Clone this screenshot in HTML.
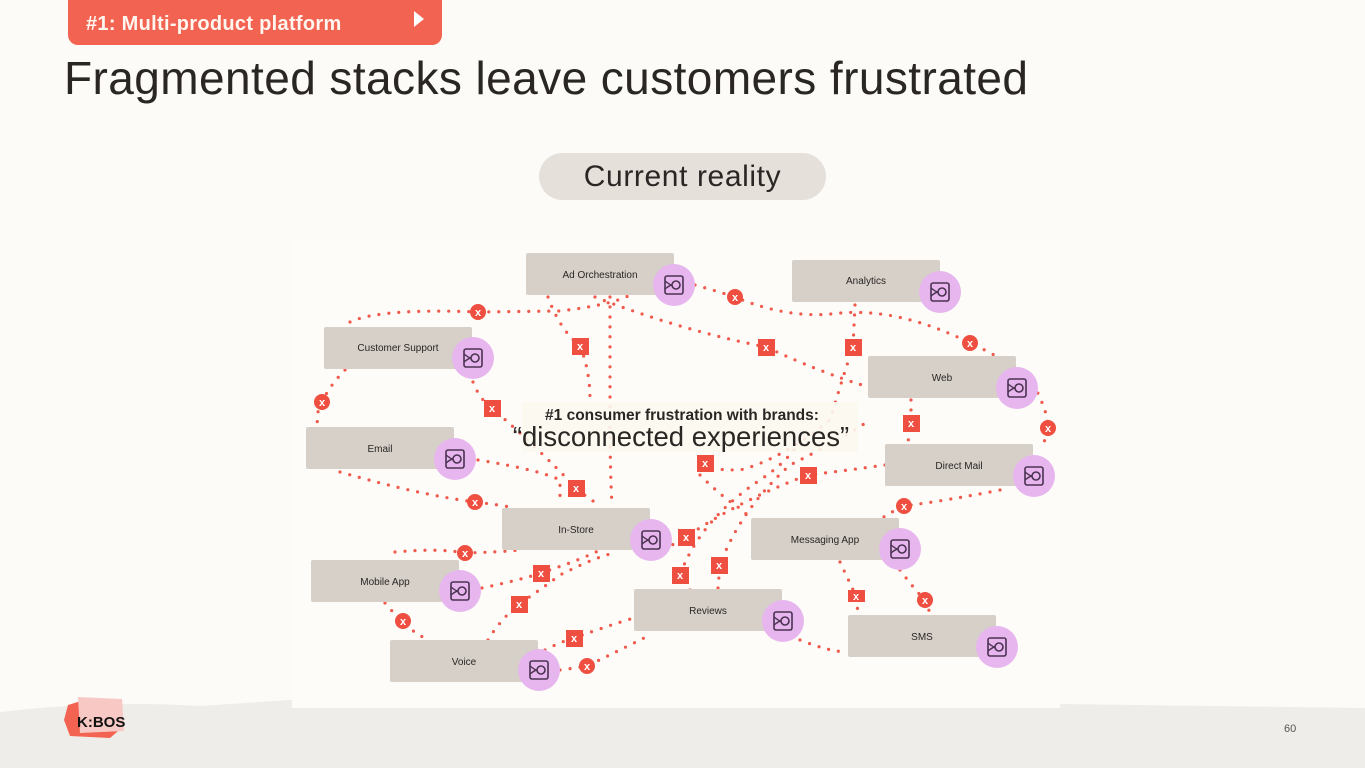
<!DOCTYPE html>
<html><head><meta charset="utf-8"><style>
html,body{margin:0;padding:0;}
body{width:1365px;height:768px;background:#fcfbf8;position:relative;overflow:hidden;font-family:"Liberation Sans",sans-serif;}
.tab{position:absolute;left:68px;top:-10px;width:374px;height:55px;background:#f26352;border-radius:0 0 10px 10px;}
.tab span{position:absolute;left:18px;top:23px;color:#fff6f0;font-size:20px;font-weight:bold;letter-spacing:0.3px;}
.tab i{position:absolute;right:18px;top:21px;width:0;height:0;border-left:10px solid #fff;border-top:8px solid transparent;border-bottom:8px solid transparent;}
h1{position:absolute;left:64px;top:51px;margin:0;font-weight:normal;font-size:46px;color:#2a2624;letter-spacing:0.42px;}
.pill{position:absolute;left:539px;top:153px;width:287px;height:47px;border-radius:24px;background:#e5e0da;text-align:center;line-height:47px;font-size:30px;letter-spacing:0.6px;color:#2a2624;}
.pg{position:absolute;left:1284px;top:723px;font-size:11px;color:#555;}
</style></head><body>
<div class="tab"><span>#1: Multi-product platform</span><i></i></div>
<h1>Fragmented stacks leave customers frustrated</h1>
<div class="pill">Current reality</div>
<svg width="1365" height="768" style="position:absolute;left:0;top:0">
<path d="M0 712 Q100 700 200 706 L 290 700 L 560 708 L 650 702 L 760 700 L 1365 708 L1365 768 L0 768Z" fill="#efede9"/>
<rect x="292" y="240" width="768" height="468" fill="#fdfcf9"/>
<g fill="none" stroke="#ef5a4c" stroke-width="3.2" stroke-linecap="round" stroke-dasharray="0 10">
<path d="M350 322 Q380 308 478 312 L560 311 Q610 305 628 296"/>
<path d="M548 297 Q560 330 580 346 Q590 370 590 400"/>
<path d="M610 297 Q610 330 610 420 Q610 470 612 505"/>
<path d="M595 297 Q680 330 766 347 Q820 372 862 385"/>
<path d="M695 285 Q720 292 735 297 Q790 320 840 313 Q900 308 970 343 Q1030 370 1040 398 Q1048 415 1048 428 Q1048 440 1040 445"/>
<path d="M855 305 L853 347 Q845 370 830 420 Q780 460 740 470 Q700 470 706 463"/>
<path d="M473 382 Q480 400 492 408 Q540 450 576 488 Q590 500 600 505"/>
<path d="M345 370 Q330 385 322 402 Q315 415 318 425"/>
<path d="M340 472 Q420 495 475 502 Q500 505 510 507"/>
<path d="M478 460 Q540 470 560 480 L560 505"/>
<path d="M911 400 L911 423 L908 442"/>
<path d="M1000 490 Q950 500 904 506 Q885 515 880 520"/>
<path d="M885 465 Q850 470 808 475 Q740 500 686 537 Q670 545 660 555"/>
<path d="M395 552 Q440 548 465 553 Q500 552 520 550"/>
<path d="M482 588 Q520 580 541 573 Q580 560 600 550"/>
<path d="M385 603 Q395 615 403 621 Q415 635 430 640"/>
<path d="M488 640 Q500 620 519 604 Q540 590 560 575 Q600 555 615 553"/>
<path d="M545 650 Q560 642 574 638 Q610 625 634 618"/>
<path d="M560 670 Q575 668 587 666 Q620 650 650 635"/>
<path d="M690 590 L680 575 Q700 520 760 480 Q790 460 800 440"/>
<path d="M718 588 L720 565 Q740 510 790 465 Q840 440 870 420"/>
<path d="M840 562 L856 596 L858 613"/>
<path d="M900 570 Q915 590 925 600 L930 613"/>
<path d="M800 640 Q830 652 848 652"/>
<path d="M700 475 Q720 495 735 505 Q745 512 750 518"/>
</g>
<g font-family="Liberation Sans,sans-serif" font-size="11" fill="#fff" text-anchor="middle" font-weight="bold">
<g fill="#ee4f40">
<circle cx="478" cy="312" r="8"/><circle cx="322" cy="402" r="8"/><circle cx="735" cy="297" r="8"/><circle cx="970" cy="343" r="8"/><circle cx="1048" cy="428" r="8"/><circle cx="475" cy="502" r="8"/><circle cx="904" cy="506" r="8"/><circle cx="465" cy="553" r="8"/><circle cx="403" cy="621" r="8"/><circle cx="587" cy="666" r="8"/><circle cx="925" cy="600" r="8"/>
<rect x="572" y="338" width="17" height="17"/><rect x="758" y="339" width="17" height="17"/><rect x="845" y="339" width="17" height="17"/><rect x="484" y="400" width="17" height="17"/><rect x="903" y="415" width="17" height="17"/><rect x="697" y="455" width="17" height="17"/><rect x="800" y="467" width="17" height="17"/><rect x="568" y="480" width="17" height="17"/><rect x="678" y="529" width="17" height="17"/><rect x="533" y="565" width="17" height="17"/><rect x="711" y="557" width="17" height="17"/><rect x="672" y="567" width="17" height="17"/><rect x="511" y="596" width="17" height="17"/><rect x="848" y="590" width="17" height="12"/><rect x="566" y="630" width="17" height="17"/>
</g>
<g>
<text x="478" y="316">x</text><text x="322" y="406">x</text><text x="735" y="301">x</text><text x="970" y="347">x</text><text x="1048" y="432">x</text><text x="475" y="506">x</text><text x="904" y="510">x</text><text x="465" y="557">x</text><text x="403" y="625">x</text><text x="587" y="670">x</text><text x="925" y="604">x</text>
<text x="580" y="350">x</text><text x="766" y="351">x</text><text x="853" y="351">x</text><text x="492" y="412">x</text><text x="911" y="427">x</text><text x="705" y="467">x</text><text x="808" y="479">x</text><text x="576" y="492">x</text><text x="686" y="541">x</text><text x="541" y="577">x</text><text x="719" y="569">x</text><text x="680" y="579">x</text><text x="519" y="608">x</text><text x="856" y="600">x</text><text x="574" y="642">x</text>
</g></g>
<defs><g id="ic"><circle r="21" fill="#e7b6ee"/><rect x="-9" y="-9" width="18" height="18" rx="2" fill="none" stroke="#4a3350" stroke-width="1.6"/><circle cx="2" cy="0" r="4" fill="none" stroke="#4a3350" stroke-width="1.6"/><path d="M-9 -4 Q-4 0 -2 0 M-9 4 Q-4 0 -2 0" fill="none" stroke="#4a3350" stroke-width="1.4"/></g></defs>
<g font-family="Liberation Sans,sans-serif" font-size="10" fill="#2a2624" text-anchor="middle">
<rect x="526" y="253" width="148" height="42" rx="2" fill="#d6d0c9"/><text x="600" y="278">Ad Orchestration</text><use href="#ic" x="674" y="285"/>
<rect x="792" y="260" width="148" height="42" rx="2" fill="#d6d0c9"/><text x="866" y="284">Analytics</text><use href="#ic" x="940" y="292"/>
<rect x="324" y="327" width="148" height="42" rx="2" fill="#d6d0c9"/><text x="398" y="351">Customer Support</text><use href="#ic" x="473" y="358"/>
<rect x="868" y="356" width="148" height="42" rx="2" fill="#d6d0c9"/><text x="942" y="381">Web</text><use href="#ic" x="1017" y="388"/>
<rect x="306" y="427" width="148" height="42" rx="2" fill="#d6d0c9"/><text x="380" y="452">Email</text><use href="#ic" x="455" y="459"/>
<rect x="885" y="444" width="148" height="42" rx="2" fill="#d6d0c9"/><text x="959" y="469">Direct Mail</text><use href="#ic" x="1034" y="476"/>
<rect x="502" y="508" width="148" height="42" rx="2" fill="#d6d0c9"/><text x="576" y="533">In-Store</text><use href="#ic" x="651" y="540"/>
<rect x="751" y="518" width="148" height="42" rx="2" fill="#d6d0c9"/><text x="825" y="543">Messaging App</text><use href="#ic" x="900" y="549"/>
<rect x="311" y="560" width="148" height="42" rx="2" fill="#d6d0c9"/><text x="385" y="585">Mobile App</text><use href="#ic" x="460" y="591"/>
<rect x="634" y="589" width="148" height="42" rx="2" fill="#d6d0c9"/><text x="708" y="614">Reviews</text><use href="#ic" x="783" y="621"/>
<rect x="848" y="615" width="148" height="42" rx="2" fill="#d6d0c9"/><text x="922" y="640">SMS</text><use href="#ic" x="997" y="647"/>
<rect x="390" y="640" width="148" height="42" rx="2" fill="#d6d0c9"/><text x="464" y="665">Voice</text><use href="#ic" x="539" y="670"/>
</g>
<rect x="522" y="402" width="336" height="50" fill="#fbf8ee" opacity="0.9"/>
<text x="682" y="420" font-family="Liberation Sans,sans-serif" font-size="15.5" font-weight="bold" fill="#2a2624" text-anchor="middle">#1 consumer frustration with brands:</text>
<text x="681" y="446" font-family="Liberation Sans,sans-serif" font-size="27.5" fill="#2a2624" text-anchor="middle">“disconnected experiences”</text>
<g>
<path d="M68 705 L84 700 L120 702 L124 726 L110 738 L70 736 L64 720Z" fill="#f26352"/>
<path d="M78 697 L122 699 L124 731 L80 733Z" fill="#f8c9c4"/>
<text x="77" y="727" font-family="Liberation Sans,sans-serif" font-size="15" font-weight="bold" fill="#111">K:BOS</text>
</g>
</svg>
<div class="pg">60</div>
</body></html>
